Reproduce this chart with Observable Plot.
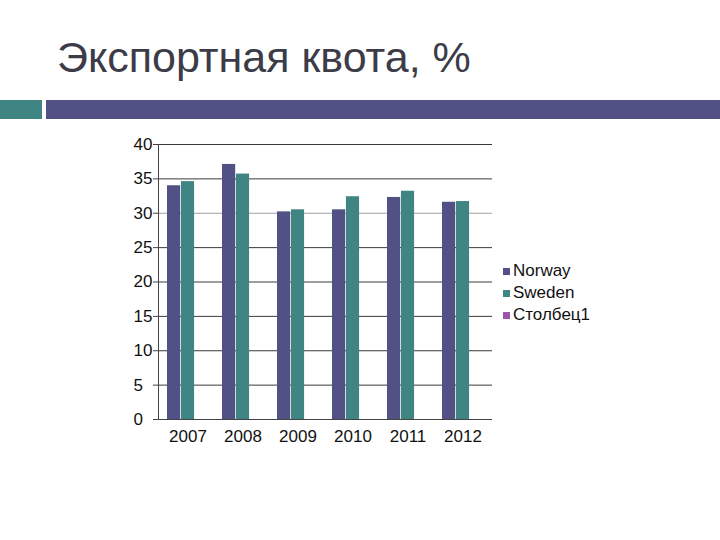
<!DOCTYPE html>
<html>
<head>
<meta charset="utf-8">
<script src="https://cdn.jsdelivr.net/npm/d3@7"></script>
<script src="https://cdn.jsdelivr.net/npm/@observablehq/plot@0.6"></script>
<style>
  html, body { margin: 0; padding: 0; background: #fff; }
  body { width: 720px; height: 540px; position: relative; overflow: hidden; font-family: "Liberation Sans", Arial, sans-serif; }
  #title { position: absolute; left: 57px; top: 36px; font-size: 43px; color: #3c3c48; white-space: nowrap; line-height: 1; }
  #bar1 { position: absolute; left: 0; top: 100px; width: 42px; height: 19px; background: #3f8583; }
  #bar2 { position: absolute; left: 46px; top: 100px; width: 674px; height: 19px; background: #515186; }
  #chart { position: absolute; left: 0; top: 0; }
  #legend { position: absolute; left: 503px; top: 260px; font-size: 17px; color: #111; }
  #legend .row { height: 22px; line-height: 22px; display: flex; align-items: center; white-space: nowrap; }
  #legend .sw { width: 7px; height: 7px; margin-right: 3px; flex: none; }
</style>
</head>
<body>
<div id="title">Экспортная квота, %</div>
<div id="bar1"></div>
<div id="bar2"></div>
<div id="chart"></div>
<div id="legend"></div>
<script>
const years = ["2007", "2008", "2009", "2010", "2011", "2012"];
const norway = [34.0, 37.1, 30.2, 30.5, 32.3, 31.6];
const sweden = [34.6, 35.7, 30.5, 32.4, 33.2, 31.7];
const seriesNames = ["Norway", "Sweden", "Столбец1"];
const seriesColors = ["#515186", "#3f8583", "#9b55a8"];
const yTicks = [0, 5, 10, 15, 20, 25, 30, 35, 40];

const norwayData = years.map((y, i) => ({year: y, value: norway[i], series: "Norway"}));
const swedenData = years.map((y, i) => ({year: y, value: sweden[i], series: "Sweden"}));

const W = 720, H = 540;
const mL = 158, mR = 228, mT = 144, mB = 121;
const paddingInner = 0.246, paddingOuter = 0.138;
const step = (W - mL - mR) / (years.length - paddingInner + 2 * paddingOuter);
const bw = step * (1 - paddingInner);
const slot = bw / 3;

const chart = Plot.plot({
  width: W,
  height: H,
  marginLeft: mL,
  marginRight: mR,
  marginTop: mT,
  marginBottom: mB,
  style: {fontFamily: "'Liberation Sans', Arial, sans-serif", fontSize: "17px", color: "#111", background: "transparent"},
  x: {domain: years, paddingInner, paddingOuter, label: null},
  y: {domain: [0, 40], ticks: yTicks, label: null},
  color: {domain: seriesNames, range: seriesColors},
  marks: [
    Plot.ruleY(yTicks.filter(d => d > 0), {stroke: d => d === 30 ? "#a0a0a0" : "#3a3a3a", strokeWidth: 1}),
    Plot.barY(norwayData, {x: "year", y: "value", fill: "series", insetLeft: 0, insetRight: 2 * slot}),
    Plot.barY(swedenData, {x: "year", y: "value", fill: "series", insetLeft: slot, insetRight: slot}),
    Plot.ruleY([0], {stroke: "#444"}),
    Plot.frame({anchor: "left", stroke: "#444"}),
    Plot.axisY({ticks: yTicks, tickSize: 5, tickPadding: 20, textAnchor: "start", fontSize: 17, label: null, stroke: "#444"}),
    Plot.axisX({tickSize: 0, tickPadding: 10, fontSize: 17, label: null})
  ]
});
document.getElementById("chart").appendChild(chart);

const legendDiv = document.getElementById("legend");
seriesNames.forEach((name, i) => {
  const row = document.createElement("div");
  row.className = "row";
  const sw = document.createElement("span");
  sw.className = "sw";
  sw.style.background = seriesColors[i];
  const label = document.createElement("span");
  label.textContent = name;
  row.appendChild(sw);
  row.appendChild(label);
  legendDiv.appendChild(row);
});
</script>
</body>
</html>
